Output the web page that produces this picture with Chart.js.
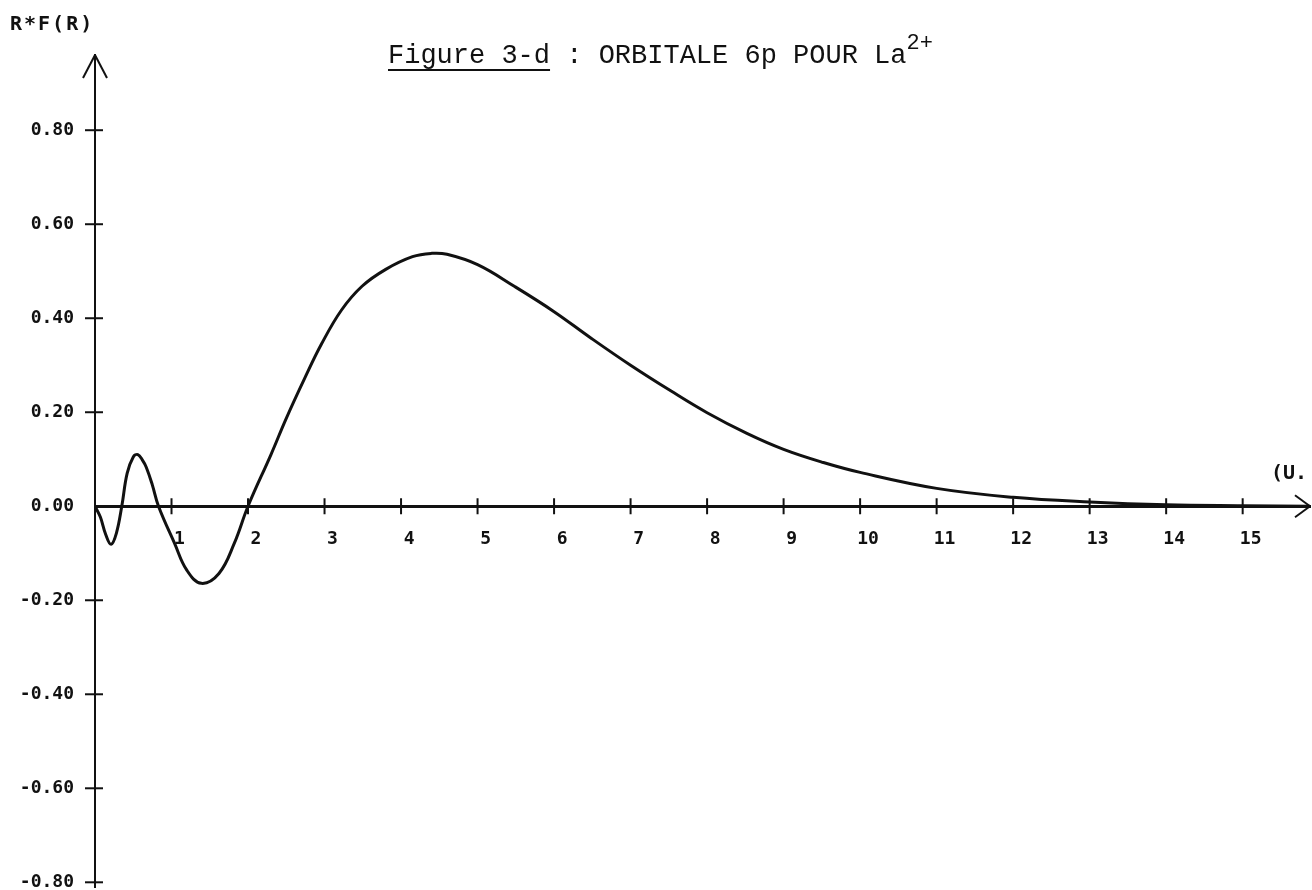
<!DOCTYPE html>
<html>
<head>
<meta charset="utf-8">
<script src="https://cdn.jsdelivr.net/npm/chart.js@4.4.1/dist/chart.umd.min.js"></script>
<style>
  body { margin: 0; background: #fff; }
  #wrap { position: relative; width: 1312px; height: 890px; }
  #plot { position: absolute; left: 0; top: 0; }
  .lbl { position: absolute; color: #111; white-space: nowrap; }
  #title { left: 388px; top: 33px; font: 27px/30px "Liberation Mono", monospace; }
  #title u { text-decoration-thickness: 2px; text-underline-offset: 6px; }
  #title sup { font-size: 22px; position: relative; top: -4px; }
  #yname { left: 10px; top: 12px; font: bold 20px/22px "DejaVu Sans Mono", monospace; letter-spacing: 2px; }
  #xname { left: 1271px; top: 461px; font: bold 20px/22px "DejaVu Sans Mono", monospace; }
</style>
</head>
<body>
<div id="wrap">
  <canvas id="plot" width="1312" height="890"></canvas>
  <div class="lbl" id="title"><u>Figure 3-d</u> : ORBITALE 6p POUR La<sup>2+</sup></div>
  <div class="lbl" id="yname">R*F(R)</div>
  <div class="lbl" id="xname">(U.</div>
</div>
<script>
// rayon R (u.a.) et valeurs de R*F(R)
const rValues = [0, 0.07, 0.14, 0.21, 0.28, 0.35, 0.42, 0.5, 0.56, 0.62, 0.67, 0.75, 0.83,
  1.04, 1.2, 1.39, 1.62, 1.82, 2.0, 2.3, 2.5, 2.74, 2.96, 3.22, 3.49, 3.8, 4.15, 4.4, 4.6,
  5.0, 5.48, 6.0, 6.48, 7.0, 7.53, 8.0, 8.52, 9.0, 9.52, 10, 11, 12, 13, 14, 15, 15.88];
const rfValues = [0, -0.023, -0.06, -0.081, -0.057, 0, 0.07, 0.105, 0.11, 0.098, 0.083, 0.045, 0,
  -0.079, -0.136, -0.164, -0.143, -0.079, 0, 0.11, 0.187, 0.272, 0.345, 0.417, 0.468, 0.504, 0.531, 0.538, 0.536,
  0.514, 0.468, 0.414, 0.358, 0.30, 0.245, 0.199, 0.155, 0.121, 0.093, 0.072, 0.038, 0.019, 0.009, 0.003, 0.001, 0];

// graduations des axes
const xRange = [0, 15.88];
const xStep = 1;
const yRange = [-0.81, 0.96];
const yStep = 0.2;

const points = rValues.map((r, i) => ({ x: r, y: rfValues[i] }));
const tickFont = { family: 'DejaVu Sans Mono', size: 18, weight: 'bold' };
const isZero = v => Math.abs(v) < 1e-9;

// petites graduations qui traversent les axes + flèches
const axisDecor = {
  id: 'axisDecor',
  afterDraw(chart) {
    const { ctx, scales: { x, y } } = chart;
    const x0 = x.getPixelForValue(0);
    const y0 = y.getPixelForValue(0);
    const seg = (a, b, c, d) => { ctx.beginPath(); ctx.moveTo(a, b); ctx.lineTo(c, d); ctx.stroke(); };
    ctx.save();
    ctx.strokeStyle = '#111';
    ctx.lineWidth = 2;
    x.ticks.forEach(t => {
      if (isZero(t.value)) return;
      const px = x.getPixelForValue(t.value);
      seg(px, y0 - 8, px, y0 + 8);
    });
    y.ticks.forEach(t => {
      if (isZero(t.value)) return;
      const py = y.getPixelForValue(t.value);
      seg(x0 - 10, py, x0 + 8, py);
    });
    // flèche en haut de l'axe vertical
    const top = chart.chartArea.top;
    seg(x0, top, x0 - 12, top + 23);
    seg(x0, top, x0 + 12, top + 23);
    // flèche au bout de l'axe horizontal
    const right = chart.chartArea.right;
    seg(right, y0, right - 15, y0 - 11);
    seg(right, y0, right - 15, y0 + 11);
    ctx.restore();
  }
};

new Chart(document.getElementById('plot'), {
  type: 'line',
  data: {
    datasets: [{
      data: points,
      borderColor: '#111',
      borderWidth: 3,
      pointRadius: 0,
      tension: 0.4,
      fill: false
    }]
  },
  options: {
    responsive: false,
    animation: false,
    devicePixelRatio: 1,
    layout: { padding: { left: 0, top: 55, right: 2, bottom: 3 } },
    plugins: { legend: { display: false }, tooltip: { enabled: false } },
    scales: {
      x: {
        type: 'linear',
        position: { y: 0 },
        min: xRange[0],
        max: xRange[1],
        grid: { display: false },
        border: { display: true, color: '#111', width: 3 },
        ticks: {
          stepSize: xStep,
          includeBounds: false,
          autoSkip: false,
          maxRotation: 0,
          padding: 14,
          labelOffset: 8,
          color: '#111',
          font: tickFont,
          callback: v => isZero(v) ? '' : String(v)
        },
        afterFit: s => { s.paddingLeft = 0; s.paddingRight = 0; }
      },
      y: {
        type: 'linear',
        position: 'left',
        min: yRange[0],
        max: yRange[1],
        grid: { display: false },
        border: { display: true, color: '#111', width: 2 },
        ticks: {
          stepSize: yStep,
          includeBounds: false,
          autoSkip: false,
          padding: 13,
          color: '#111',
          font: tickFont,
          callback: v => isZero(v) ? '0.00' : v.toFixed(2)
        },
        afterFit: s => { s.width = 95; s.paddingTop = 0; s.paddingBottom = 0; }
      }
    }
  },
  plugins: [axisDecor]
});
</script>
</body>
</html>
